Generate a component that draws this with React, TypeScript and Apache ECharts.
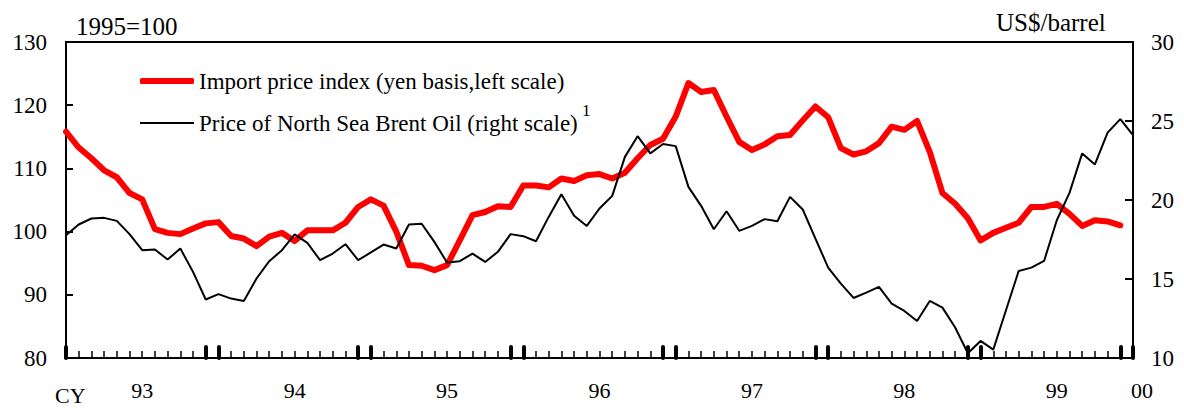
import React, { useEffect, useRef } from "react";
import * as echarts from "echarts";

// Monthly observations, Jan 1993 .. Jan 2000
const startYear = 1993;
const yearLabels = ["93", "94", "95", "96", "97", "98", "99", "00"];

const importPriceIndex = [
  115.8, 113.3, 111.6, 109.7, 108.6, 106.1, 105.1, 100.4, 99.8, 99.6, 100.5, 101.3,
  101.5, 99.3, 98.9, 97.7, 99.2, 99.8, 98.5, 100.2, 100.2, 100.2, 101.4, 103.9,
  105.1, 104.1, 100.0, 94.7, 94.6, 93.9, 94.7, 98.6, 102.6, 103.1, 104.0, 103.9,
  107.3, 107.3, 107.0, 108.4, 108.0, 108.9, 109.1, 108.4, 109.3, 111.6, 113.7, 114.7,
  118.2, 123.5, 122.1, 122.4, 118.2, 114.2, 112.9, 113.8, 115.1, 115.3, 117.6, 119.8,
  118.1, 113.2, 112.2, 112.7, 114.0, 116.6, 116.1, 117.5, 112.6, 106.1, 104.4, 102.1,
  98.6, 99.8, 100.6, 101.4, 103.9, 103.9, 104.4, 102.8, 100.9, 101.8, 101.6, 101.0,
];

const brentPrice = [
  17.77, 18.45, 18.83, 18.87, 18.68, 17.84, 16.82, 16.87, 16.23, 16.93, 15.45, 13.7,
  14.04, 13.76, 13.61, 15.03, 16.13, 16.82, 17.82, 17.29, 16.19, 16.61, 17.2, 16.19,
  16.68, 17.18, 16.93, 18.45, 18.5, 17.35, 16.04, 16.13, 16.61, 16.08, 16.72, 17.84,
  17.71, 17.39, 18.93, 20.37, 19.0, 18.36, 19.46, 20.26, 22.73, 24.04, 22.95, 23.54,
  23.41, 20.83, 19.63, 18.15, 19.29, 18.05, 18.36, 18.79, 18.66, 20.2, 19.4, 17.56,
  15.72, 14.71, 13.8, 14.14, 14.5, 13.44, 12.98, 12.34, 13.61, 13.19, 11.93, 10.3,
  11.08, 10.53, 13.02, 15.51, 15.72, 16.14, 18.72, 20.45, 22.95, 22.25, 24.26, 25.12,
  24.1,
];

const seriesNames = [
  "Import price index (yen basis,left scale)",
  "Price of North Sea Brent Oil (right scale)",
];

const months: string[] = [];
for (let y = 0; y < 7; y++) {
  for (let m = 1; m <= 12; m++) {
    months.push(`${startYear + y}-${String(m).padStart(2, "0")}`);
  }
}
months.push(`${startYear + 7}-01`);

const FONT = "'Liberation Serif', 'Times New Roman', serif";

export default function App() {
  const ref = useRef<HTMLDivElement>(null);
  useEffect(() => {
    if (!ref.current) return;
    const chart = echarts.init(ref.current, null, { renderer: "svg" });
    const last = months.length - 1;
    const legendText = { fontFamily: FONT, fontSize: 23, color: "#000", lineHeight: 26 };
    chart.setOption({
      animation: false,
      backgroundColor: "#ffffff",
      textStyle: { fontFamily: FONT, color: "#000" },
      grid: {
        left: 66,
        right: 51,
        top: 42,
        bottom: 50,
        show: true,
        borderColor: "#000",
        borderWidth: 2,
        backgroundColor: "transparent",
      },
      legend: [
        {
          left: 140,
          top: 68,
          padding: 0,
          itemWidth: 54,
          itemHeight: 6,
          icon: "roundRect",
          data: [{ name: seriesNames[0], itemStyle: { color: "#ff0000" } }],
          textStyle: legendText,
        },
        {
          left: 140,
          top: 110,
          padding: 0,
          itemWidth: 54,
          itemHeight: 2,
          icon: "rect",
          data: [{ name: seriesNames[1], itemStyle: { color: "#000000" } }],
          textStyle: legendText,
        },
      ],
      xAxis: [
        {
          type: "category",
          data: months,
          boundaryGap: false,
          position: "bottom",
          axisLine: { show: true, lineStyle: { color: "#000", width: 2 } },
          axisTick: { show: true, inside: true, interval: 0, length: 7, lineStyle: { color: "#000", width: 1.5 } },
          axisLabel: {
            show: true,
            interval: (i: number) => i % 12 === 6 || i === last,
            margin: 21,
            fontFamily: FONT,
            fontSize: 22,
            color: "#000",
            formatter: (_v: string, i: number) =>
              i === last ? "{r|" + yearLabels[7] + "}" : yearLabels[Math.floor(i / 12)],
            rich: { r: { padding: [0, 0, 0, 18], fontFamily: FONT, fontSize: 22, color: "#000" } },
          },
          splitLine: { show: false },
        },
        {
          type: "category",
          data: months,
          boundaryGap: false,
          position: "bottom",
          axisLine: { show: false },
          axisTick: {
            show: true,
            inside: true,
            interval: (i: number) => i % 12 === 11 || i % 12 === 0,
            length: 11,
            lineStyle: { color: "#000", width: 4, cap: "round" },
          },
          axisLabel: { show: false },
          splitLine: { show: false },
        },
      ],
      yAxis: [
        {
          type: "value",
          min: 80,
          max: 130,
          interval: 10,
          position: "left",
          axisLine: { show: true, lineStyle: { color: "#000", width: 2 } },
          axisTick: { show: true, inside: true, length: 7, lineStyle: { color: "#000", width: 2 } },
          axisLabel: { margin: 19, fontFamily: FONT, fontSize: 23, color: "#000" },
          splitLine: { show: false },
        },
        {
          type: "value",
          min: 10,
          max: 30,
          interval: 5,
          position: "right",
          axisLine: { show: true, lineStyle: { color: "#000", width: 2 } },
          axisTick: { show: true, inside: true, length: 8, lineStyle: { color: "#000", width: 2 } },
          axisLabel: { margin: 18, fontFamily: FONT, fontSize: 23, color: "#000" },
          splitLine: { show: false },
        },
      ],
      series: [
        {
          name: seriesNames[0],
          type: "line",
          xAxisIndex: 0,
          yAxisIndex: 0,
          data: importPriceIndex,
          symbol: "none",
          color: "#ff0000",
          lineStyle: { color: "#ff0000", width: 6, cap: "round", join: "round" },
        },
        {
          name: seriesNames[1],
          type: "line",
          xAxisIndex: 0,
          yAxisIndex: 1,
          data: brentPrice,
          symbol: "none",
          color: "#000000",
          lineStyle: { color: "#000000", width: 2 },
        },
      ],
      graphic: [
        { type: "text", x: 76, y: 26, style: { text: "1995=100", font: `25px ${FONT}`, fill: "#000", verticalAlign: "middle" } },
        { type: "text", x: 996, y: 22, style: { text: "US$/barrel", font: `25px ${FONT}`, fill: "#000", verticalAlign: "middle" } },
        { type: "text", x: 55, y: 395, style: { text: "CY", font: `22px ${FONT}`, fill: "#000", verticalAlign: "middle" } },
        { type: "text", x: 582, y: 110, style: { text: "1", font: `17px ${FONT}`, fill: "#000", verticalAlign: "middle" } },
      ],
    });
    return () => chart.dispose();
  }, []);
  return (
    <div
      ref={ref}
      style={{ position: "fixed", left: 0, top: 0, width: 1184, height: 408, background: "#fff" }}
    />
  );
}
